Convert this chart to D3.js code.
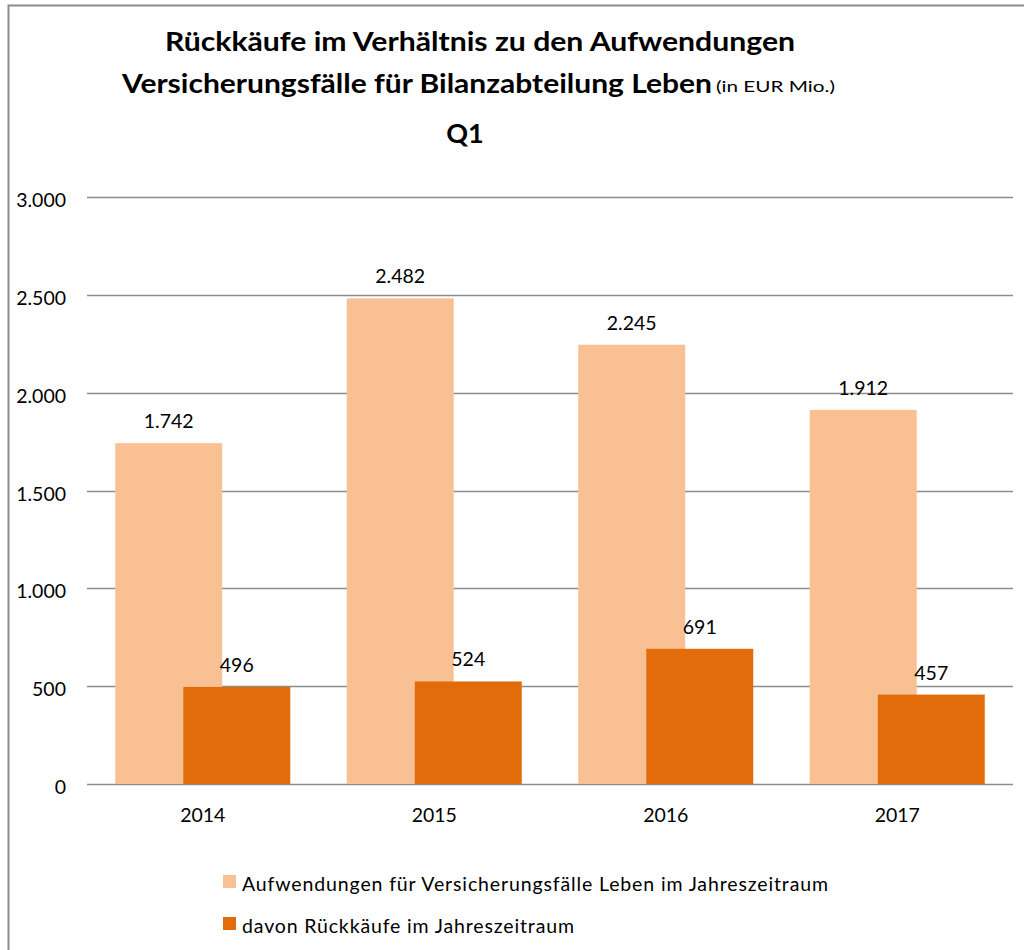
<!DOCTYPE html>
<html>
<head>
<meta charset="utf-8">
<script src="https://cdn.jsdelivr.net/npm/d3@7"></script>
<style>
  body { margin: 0; background: #fff; }
  text { font-family: Lato, "Open Sans", sans-serif; fill: #000; }
</style>
</head>
<body>
<svg width="1024" height="950"></svg>
<script>
// chart data
var years = ["2014", "2015", "2016", "2017"];
var aufwendungen = [1742, 2482, 2245, 1912];
var rueckkaeufe = [496, 524, 691, 457];
var seriesNames = ["Aufwendungen für Versicherungsfälle Leben im Jahreszeitraum",
                   "davon Rückkäufe im Jahreszeitraum"];
var yTicks = [0, 500, 1000, 1500, 2000, 2500, 3000];
var colors = ["#F9C193", "#E36C0A"];

var svg = d3.select("svg");
var fmt = d3.formatLocale({decimal: ",", thousands: ".", grouping: [3], currency: ["", "€"]}).format(",");

// outer frame
svg.append("path")
   .attr("d", "M8.5,950 V5.5 H1024")
   .attr("fill", "none")
   .attr("stroke", "#8c8c8c")
   .attr("stroke-width", 2);

// titles
svg.append("text")
   .attr("x", 480).attr("y", 51)
   .attr("text-anchor", "middle")
   .attr("font-size", 27).attr("font-weight", "bold")
   .attr("textLength", 630).attr("lengthAdjust", "spacingAndGlyphs")
   .text("Rückkäufe im Verhältnis zu den Aufwendungen");
svg.append("text")
   .attr("x", 122).attr("y", 93)
   .attr("font-size", 27).attr("font-weight", "bold")
   .attr("textLength", 590).attr("lengthAdjust", "spacingAndGlyphs")
   .text("Versicherungsfälle für Bilanzabteilung Leben");
svg.append("text")
   .attr("x", 716).attr("y", 92)
   .attr("font-size", 15)
   .attr("textLength", 119).attr("lengthAdjust", "spacingAndGlyphs")
   .text("(in EUR Mio.)");
svg.append("text")
   .attr("x", 465).attr("y", 143)
   .attr("text-anchor", "middle")
   .attr("font-size", 27).attr("font-weight", "bold")
   .text("Q1");

// scales
var x = d3.scaleBand().domain(years).range([87, 1013]);
var y = d3.scaleLinear().domain([0, 3000]).range([784, 197]);
var barW = x.bandwidth() * 0.462;
var shift = x.bandwidth() * 0.147;

// gridlines
svg.append("g")
   .selectAll("line")
   .data(yTicks)
   .enter()
   .append("line")
   .attr("x1", 87).attr("x2", 1013)
   .attr("y1", function(d) { return Math.round(y(d)) + 0.5; })
   .attr("y2", function(d) { return Math.round(y(d)) + 0.5; })
   .attr("stroke", "#8c8c8c")
   .attr("stroke-width", 1.5);

// y tick labels
svg.append("g")
   .selectAll("text")
   .data(yTicks)
   .enter()
   .append("text")
   .attr("x", 66)
   .attr("y", function(d) { return y(d) + 10; })
   .attr("text-anchor", "end")
   .attr("font-size", 19.5)
   .text(function(d) { return fmt(d); });

// bars
var series = [aufwendungen, rueckkaeufe];
series.forEach(function(vals, s) {
    var offset = s === 0 ? -shift : shift;
    var g = svg.append("g");
    g.selectAll("rect")
     .data(vals)
     .enter()
     .append("rect")
     .attr("x", function(d, i) { return x(years[i]) + x.bandwidth() / 2 + offset - barW / 2; })
     .attr("width", barW)
     .attr("y", function(d) { return y(d); })
     .attr("height", function(d) { return y(0) - y(d); })
     .attr("fill", colors[s]);
    g.selectAll("text")
     .data(vals)
     .enter()
     .append("text")
     .attr("x", function(d, i) { return x(years[i]) + x.bandwidth() / 2 + offset; })
     .attr("y", function(d) { return y(d) - 15; })
     .attr("text-anchor", "middle")
     .attr("font-size", 19.5)
     .text(function(d) { return fmt(d); });
});

// x labels
svg.append("g")
   .selectAll("text")
   .data(years)
   .enter()
   .append("text")
   .attr("x", function(d) { return x(d) + x.bandwidth() / 2; })
   .attr("y", 822)
   .attr("text-anchor", "middle")
   .attr("font-size", 19.5)
   .text(function(d) { return d; });

// legend
var legendWidths = [586, 332];
var legend = svg.append("g")
   .selectAll("g")
   .data(seriesNames)
   .enter()
   .append("g")
   .attr("transform", function(d, i) { return "translate(223," + (875 + i * 42) + ")"; });
legend.append("rect")
   .attr("width", 13).attr("height", 13)
   .attr("fill", function(d, i) { return colors[i]; });
legend.append("text")
   .attr("x", 19).attr("y", 16)
   .attr("font-size", 19.5)
   .attr("textLength", function(d, i) { return legendWidths[i]; })
   .attr("lengthAdjust", "spacing")
   .text(function(d) { return d; });
</script>
</body>
</html>
